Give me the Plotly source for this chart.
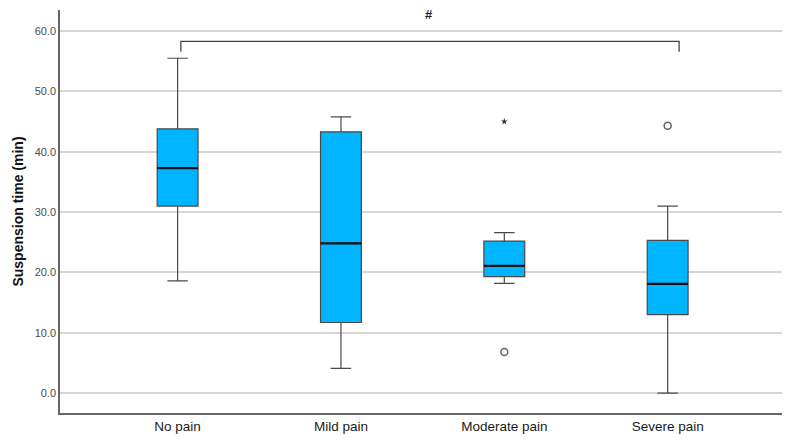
import plotly.graph_objects as go

categories = ["No pain", "Mild pain", "Moderate pain", "Severe pain"]
q1 = [31.0, 11.7, 19.3, 13.0]
median = [37.3, 24.8, 21.1, 18.1]
q3 = [43.8, 43.3, 25.2, 25.3]
lower_whisker = [18.6, 4.1, 18.2, 0.0]
upper_whisker = [55.5, 45.8, 26.6, 31.0]

circle_outlier_cat = [2, 3]
circle_outlier_val = [6.8, 44.3]
extreme_outlier_cat = [2]
extreme_outlier_val = [45.0]

bracket_from, bracket_to = 0, 3
bracket_top, bracket_drop = 58.3, 56.6
sig_label = "#"

y_ticks = [0, 10, 20, 30, 40, 50, 60]

box_w = 0.25
xs = list(range(len(categories)))

fig = go.Figure()
fig.add_trace(go.Box(
    x=xs, q1=q1, median=median, q3=q3,
    lowerfence=lower_whisker, upperfence=upper_whisker,
    width=box_w, whiskerwidth=0.5,
    fillcolor="#00B4FF", line=dict(color="#4a4a4a", width=1.2),
    boxpoints=False, showlegend=False, hoverinfo="skip",
))
# thicker medians
for i, m in zip(xs, median):
    fig.add_trace(go.Scatter(
        x=[i - box_w / 2, i + box_w / 2], y=[m, m], mode="lines",
        line=dict(color="#111111", width=2.2), showlegend=False, hoverinfo="skip"))

fig.add_trace(go.Scatter(
    x=circle_outlier_cat, y=circle_outlier_val, mode="markers",
    marker=dict(symbol="circle-open", size=7, color="#666666", line=dict(width=1.5)),
    showlegend=False))
fig.add_trace(go.Scatter(
    x=extreme_outlier_cat, y=extreme_outlier_val, mode="markers",
    marker=dict(symbol="star", size=5, color="#333333"),
    showlegend=False))

# significance bracket
off = 0.02
bx = [bracket_from + off, bracket_from + off, bracket_to + 0.07, bracket_to + 0.07]
by = [bracket_drop, bracket_top, bracket_top, bracket_drop]
fig.add_trace(go.Scatter(x=bx, y=by, mode="lines",
                         line=dict(color="#444444", width=1.3),
                         showlegend=False, hoverinfo="skip"))
fig.add_annotation(x=(bracket_from + bracket_to) / 2 + 0.04, y=62.8, text="<b>" + sig_label + "</b>",
                   showarrow=False, font=dict(size=13, color="#222222",
                                              family="Liberation Sans, Arial"))

fig.update_layout(
    width=792, height=442,
    margin=dict(l=60, r=10, t=10, b=29),
    paper_bgcolor="white", plot_bgcolor="white",
    font=dict(family="Liberation Sans, Arial", color="#222222"),
)
fig.update_xaxes(
    range=[-0.72, 3.70], tickvals=xs, ticktext=categories, automargin=False,
    showgrid=False, zeroline=False, showline=True, linecolor="#666666", linewidth=1.5,
    tickfont=dict(size=13.5, color="#1a1a1a"), ticks="",
)
fig.update_yaxes(
    range=[-3.3, 63.5], tickvals=y_ticks, ticktext=[f"{v:.1f}" for v in y_ticks],
    automargin=False,
    showgrid=True, gridcolor="#d6d6d6", gridwidth=1.5, zeroline=False,
    showline=True, linecolor="#666666", linewidth=1.5, ticks="",
    tickfont=dict(size=11, color="#4d4d4d"),
    title=dict(text="<b>Suspension time (min)</b>", font=dict(size=14, color="#111111"),
               standoff=8),
)
fig.write_html("out.html")
